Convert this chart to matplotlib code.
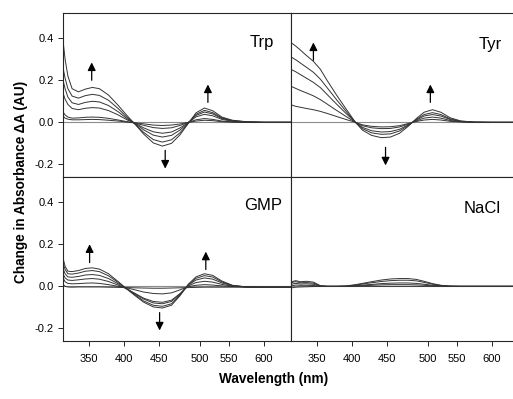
import matplotlib
matplotlib.use("Agg")
import matplotlib.pyplot as plt

plt.rcParams["font.family"] = ["Liberation Sans", "DejaVu Sans"]

# wavelength grid (nm) shared by all spectra
wl = [313, 316, 320, 326, 335, 345, 355, 365, 378, 392, 405, 415, 428,
      442, 455, 468, 480, 492, 503, 515, 527, 540, 555, 575, 600, 638]

trp = [
    [0.39, 0.30, 0.22, 0.16, 0.145, 0.158, 0.166, 0.160, 0.13, 0.08, 0.03, -0.005, -0.055,
     -0.098, -0.113, -0.10, -0.06, -0.005, 0.045, 0.068, 0.055, 0.025, 0.01, 0.003, 0.0, 0.0],
    [0.26, 0.21, 0.16, 0.125, 0.115, 0.127, 0.133, 0.128, 0.105, 0.065, 0.022, -0.006, -0.047,
     -0.082, -0.094, -0.083, -0.05, -0.004, 0.038, 0.057, 0.046, 0.021, 0.008, 0.002, 0.0, 0.0],
    [0.20, 0.16, 0.12, 0.093, 0.085, 0.095, 0.10, 0.097, 0.08, 0.05, 0.016, -0.004, -0.035,
     -0.061, -0.07, -0.062, -0.037, -0.002, 0.033, 0.049, 0.04, 0.018, 0.007, 0.002, 0.0, 0.0],
    [0.14, 0.11, 0.085, 0.066, 0.06, 0.067, 0.07, 0.068, 0.056, 0.035, 0.011, -0.003, -0.026,
     -0.045, -0.052, -0.046, -0.027, -0.001, 0.026, 0.038, 0.031, 0.014, 0.005, 0.001, 0.0, 0.0],
    [0.05, 0.035, 0.025, 0.02, 0.021, 0.024, 0.025, 0.024, 0.019, 0.011, 0.003, -0.003, -0.014,
     -0.025, -0.029, -0.026, -0.015, 0.0, 0.012, 0.018, 0.014, 0.006, 0.002, 0.0, 0.0, 0.0],
    [0.03, 0.02, 0.015, 0.012, 0.012, 0.013, 0.014, 0.013, 0.01, 0.006, 0.001, -0.002, -0.007,
     -0.013, -0.015, -0.013, -0.008, 0.0, 0.006, 0.01, 0.008, 0.003, 0.001, 0.0, 0.0, 0.0],
]

tyr = [
    [0.378, 0.372, 0.362, 0.345, 0.318, 0.29, 0.252, 0.197, 0.13, 0.062, 0.0, -0.037, -0.062,
     -0.073, -0.07, -0.052, -0.02, 0.018, 0.048, 0.06, 0.048, 0.022, 0.007, 0.001, 0.0, 0.0],
    [0.311, 0.305, 0.297, 0.283, 0.262, 0.238, 0.205, 0.163, 0.108, 0.051, 0.0, -0.03, -0.05,
     -0.057, -0.055, -0.041, -0.016, 0.014, 0.037, 0.046, 0.037, 0.017, 0.005, 0.001, 0.0, 0.0],
    [0.251, 0.247, 0.24, 0.228, 0.21, 0.19, 0.165, 0.131, 0.087, 0.041, 0.0, -0.024, -0.04,
     -0.046, -0.044, -0.033, -0.013, 0.011, 0.03, 0.037, 0.03, 0.014, 0.004, 0.001, 0.0, 0.0],
    [0.171, 0.167, 0.161, 0.152, 0.14, 0.126, 0.108, 0.086, 0.057, 0.027, 0.0, -0.016, -0.026,
     -0.03, -0.029, -0.022, -0.009, 0.007, 0.02, 0.025, 0.02, 0.009, 0.003, 0.0, 0.0, 0.0],
    [0.084, 0.08, 0.076, 0.072, 0.066, 0.06, 0.052, 0.042, 0.028, 0.013, 0.0, -0.012, -0.019,
     -0.022, -0.021, -0.016, -0.006, 0.004, 0.011, 0.014, 0.011, 0.005, 0.002, 0.0, 0.0, 0.0],
]

gmp = [
    [0.135, 0.095, 0.072, 0.07, 0.075, 0.085, 0.088, 0.082, 0.06, 0.022, -0.015, -0.042, -0.075,
     -0.098, -0.103, -0.09, -0.045, 0.01, 0.045, 0.06, 0.052, 0.025, 0.005, -0.003, -0.004, -0.004],
    [0.11, 0.08, 0.06, 0.058, 0.063, 0.072, 0.075, 0.07, 0.05, 0.018, -0.014, -0.038, -0.069,
     -0.09, -0.095, -0.083, -0.042, 0.008, 0.038, 0.051, 0.044, 0.021, 0.004, -0.003, -0.004, -0.004],
    [0.085, 0.06, 0.045, 0.043, 0.047, 0.054, 0.056, 0.052, 0.037, 0.012, -0.013, -0.034, -0.06,
     -0.079, -0.083, -0.072, -0.037, 0.006, 0.03, 0.04, 0.034, 0.016, 0.003, -0.003, -0.004, -0.004],
    [0.06, 0.04, 0.03, 0.028, 0.031, 0.035, 0.037, 0.034, 0.023, 0.006, -0.014, -0.032, -0.056,
     -0.072, -0.076, -0.066, -0.035, 0.002, 0.018, 0.024, 0.02, 0.009, 0.001, -0.003, -0.004, -0.004],
    [0.04, 0.022, 0.014, 0.012, 0.013, 0.015, 0.016, 0.014, 0.008, 0.0, -0.008, -0.016, -0.027,
     -0.034, -0.036, -0.031, -0.017, -0.002, 0.005, 0.008, 0.006, 0.002, -0.001, -0.003, -0.004, -0.004],
    [0.01, 0.0, -0.003, -0.004, -0.003, -0.003, -0.003, -0.003, -0.004, -0.005, -0.006, -0.007, -0.008,
     -0.009, -0.009, -0.008, -0.007, -0.006, -0.005, -0.004, -0.004, -0.004, -0.004, -0.004, -0.004, -0.004],
]

nacl = [
    [0.02, 0.024, 0.027, 0.022, 0.024, 0.02, 0.003, 0.0, 0.0, 0.002, 0.008, 0.014, 0.022,
     0.03, 0.035, 0.037, 0.037, 0.033, 0.024, 0.013, 0.005, 0.001, 0.0, 0.0, 0.0, 0.0],
    [0.015, 0.02, 0.022, 0.017, 0.018, 0.015, 0.002, 0.0, 0.0, 0.001, 0.006, 0.011, 0.017,
     0.023, 0.027, 0.029, 0.029, 0.026, 0.019, 0.01, 0.004, 0.001, 0.0, 0.0, 0.0, 0.0],
    [0.008, 0.012, 0.014, 0.011, 0.012, 0.01, 0.001, 0.0, 0.0, 0.0, 0.003, 0.006, 0.009,
     0.013, 0.015, 0.016, 0.016, 0.014, 0.01, 0.005, 0.002, 0.0, 0.0, 0.0, 0.0, 0.0],
    [0.0, 0.004, 0.006, 0.005, 0.005, 0.004, 0.0, 0.0, 0.0, 0.0, 0.001, 0.003, 0.005,
     0.007, 0.008, 0.008, 0.008, 0.007, 0.005, 0.002, 0.001, 0.0, 0.0, 0.0, 0.0, 0.0],
    [-0.008, -0.006, -0.004, -0.003, -0.002, -0.001, 0.0, 0.0, 0.0, 0.0, 0.0, 0.0, 0.0,
     0.0, 0.0, 0.0, 0.0, 0.0, 0.0, 0.0, 0.0, 0.0, 0.0, 0.0, 0.0, 0.0],
]

panel_names = ["Trp", "Tyr", "GMP", "NaCl"]
xtick_pos = [350, 400, 450, 509, 550, 600]
xtick_labels = ["350", "400", "450", "500", "550", "600"]
yticks = [-0.2, 0.0, 0.2, 0.4]

# arrows per panel: (x, y_tail, y_head)
arrows = {
    "Trp": [(354, 0.20, 0.285), (520, 0.095, 0.18), (459, -0.133, -0.22)],
    "Tyr": [(345, 0.295, 0.38), (512, 0.095, 0.18), (448, -0.119, -0.205)],
    "GMP": [(351, 0.113, 0.20), (517, 0.08, 0.165), (451, -0.125, -0.21)],
    "NaCl": [],
}
label_pos = {"Trp": (0.925, 0.82), "Tyr": (0.95, 0.81),
             "GMP": (0.96, 0.825), "NaCl": (0.945, 0.81)}

fig = plt.figure(figsize=(5.13, 3.99), dpi=100)
x0, xm, x1 = 63 / 513, 291 / 513, 1.0
yt, ym, yb = 1 - 13 / 399, 1 - 177 / 399, 1 - 341 / 399

boxes = [
    [x0, ym, xm - x0, yt - ym],
    [xm, ym, x1 - xm, yt - ym],
    [x0, yb, xm - x0, ym - yb],
    [xm, yb, x1 - xm, ym - yb],
]
xlims = [(313, 638.7), (313, 630), (313, 638.7), (313, 630)]

for i, (name, curves) in enumerate(zip(panel_names, [trp, tyr, gmp, nacl])):
    ax = fig.add_axes(boxes[i])
    ax.axhline(0, color="0.55", lw=0.8, zorder=1)
    for c in curves:
        ax.plot(wl, c, color="0.2", lw=0.7, zorder=2)
    ax.set_xlim(*xlims[i])
    ax.set_ylim(-0.26, 0.52)
    for s in ax.spines.values():
        s.set_linewidth(0.8)
        s.set_color("0.15")
    if i % 2 == 1:
        ax.spines["right"].set_visible(False)
        ax.set_yticks([])
    else:
        ax.set_yticks(yticks)
        ax.set_yticklabels(["-0.2", "0.0", "0.2", "0.4"])
    if i < 2:
        ax.set_xticks([])
    else:
        ax.set_xticks(xtick_pos)
        ax.set_xticklabels(xtick_labels)
    ax.tick_params(direction="out", length=3.5, width=0.7, labelsize=8, pad=3,
                   colors="0.15", labelcolor="black")
    ax.tick_params(axis="x", pad=6)
    ax.text(*label_pos[name], name, transform=ax.transAxes, ha="right",
            va="center", fontsize=12)
    for x, ya, yh in arrows[name]:
        ax.annotate("", xy=(x, yh), xytext=(x, ya),
                    arrowprops=dict(arrowstyle="-|>", color="black", lw=0.9,
                                    mutation_scale=12, shrinkA=0, shrinkB=0))

fig.text(21 / 513, 1 - 182 / 399, "Change in Absorbance \u0394A (AU)",
         rotation=90, ha="center", va="center", fontsize=9.8, fontweight="bold")
fig.text(274 / 513, 1 - 379 / 399, "Wavelength (nm)", ha="center",
         va="center", fontsize=9.8, fontweight="bold")

fig.savefig("out.png", dpi=100)
